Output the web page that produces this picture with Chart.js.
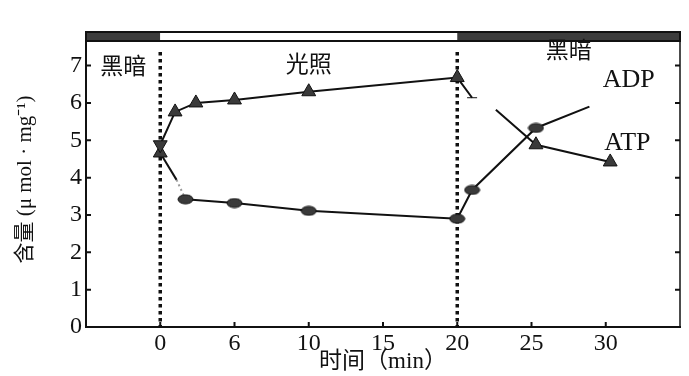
<!DOCTYPE html>
<html>
<head>
<meta charset="utf-8">
<script src="https://cdn.jsdelivr.net/npm/chart.js@4.4.0/dist/chart.umd.min.js"></script>
<style>
  html, body { margin: 0; padding: 0; background: #fff; }
</style>
</head>
<body>
<canvas id="chart" width="689" height="376"></canvas>
<script>
// time axis ticks (the printed figure shows "6" under the 5 min tick)
const xTickValues = [0, 5, 10, 15, 20, 25, 30];
const xTickLabels = ['0', '6', '10', '15', '20', '25', '30'];
const yTickValues = [0, 1, 2, 3, 4, 5, 6, 7];

// ATP (triangles)
const atpTime  = [0, 1, 2.4, 5, 10, 20, 21, 22.6, 25.3, 30.3];
const atpLevel = [4.88, 5.76, 6.0, 6.08, 6.3, 6.68, 6.14, 5.82, 4.88, 4.42];

// ADP (ellipses)
const adpTime  = [0, 1.1, 1.7, 5, 10, 20, 21, 25.3, 28.9];
const adpLevel = [4.66, 3.94, 3.42, 3.32, 3.11, 2.9, 3.67, 5.33, 5.9];

// light / dark periods
const phaseStart = [-5, 0, 20];
const phaseEnd   = [0, 20, 35];
const phaseNames = ['黑暗', '光照', '黑暗'];

const serif = "'Liberation Serif', 'Noto Sans CJK SC', serif";
const ink = '#111';

function ellipseMarker(w, h) {
  const c = document.createElement('canvas');
  c.width = w + 2;
  c.height = h + 2;
  const g = c.getContext('2d');
  g.fillStyle = '#3a3a3a';
  g.strokeStyle = ink;
  g.lineWidth = 1;
  g.beginPath();
  g.ellipse(c.width / 2, c.height / 2, w / 2, h / 2, 0, 0, Math.PI * 2);
  g.fill();
  g.stroke();
  return c;
}
const ell = ellipseMarker(15, 9);

const toPoints = (xs, ys) => xs.map((t, i) => ({ x: t, y: ys[i] }));

const decor = {
  id: 'decor',
  beforeDatasetsDraw(chart) {
    const { ctx, chartArea: a, scales: { x, y } } = chart;
    ctx.save();
    // band on top: dark / light
    const bandH = 9;
    phaseStart.forEach((s, i) => {
      const x0 = x.getPixelForValue(s);
      const x1 = x.getPixelForValue(phaseEnd[i]);
      ctx.fillStyle = phaseNames[i] === '黑暗' ? '#3c3c3c' : '#fff';
      ctx.fillRect(x0, a.top, x1 - x0, bandH);
    });
    ctx.strokeStyle = ink;
    ctx.lineWidth = 2;
    ctx.strokeRect(a.left, a.top, a.right - a.left, bandH);

    // right frame line
    ctx.lineWidth = 1.5;
    ctx.beginPath();
    ctx.moveTo(a.right, a.top);
    ctx.lineTo(a.right, a.bottom);
    ctx.stroke();

    // inward tick marks
    ctx.lineWidth = 2;
    ctx.beginPath();
    xTickValues.forEach(v => {
      const px = x.getPixelForValue(v);
      ctx.moveTo(px, a.bottom);
      ctx.lineTo(px, a.bottom - 5);
    });
    yTickValues.forEach(v => {
      const py = y.getPixelForValue(v);
      ctx.moveTo(a.left, py);
      ctx.lineTo(a.left + 5, py);
      ctx.moveTo(a.right, py);
      ctx.lineTo(a.right - 5, py);
    });
    ctx.stroke();

    // dotted lines where light is switched
    ctx.setLineDash([3.5, 3.5]);
    ctx.lineWidth = 3.5;
    [phaseEnd[0], phaseEnd[1]].forEach(v => {
      const px = x.getPixelForValue(v);
      ctx.beginPath();
      ctx.moveTo(px, a.top + 20);
      ctx.lineTo(px, a.bottom);
      ctx.stroke();
    });
    ctx.restore();
  },
  afterDraw(chart) {
    const { ctx, chartArea: a, scales: { x, y } } = chart;
    ctx.save();
    ctx.fillStyle = ink;
    ctx.textBaseline = 'middle';
    ctx.textAlign = 'center';
    ctx.font = "23px 'Noto Sans CJK SC', sans-serif";
    const dy = [33, 31, 17];
    phaseNames.forEach((n, i) => {
      const mid = (phaseStart[i] + phaseEnd[i]) / 2;
      ctx.fillText(n, x.getPixelForValue(mid), a.top + dy[i]);
    });
    ctx.textAlign = 'left';
    ctx.font = '26px ' + serif;
    ctx.fillText('ADP', x.getPixelForValue(29.8), y.getPixelForValue(6.62));
    ctx.fillText('ATP', x.getPixelForValue(29.9), y.getPixelForValue(4.93));
    ctx.restore();
  }
};

new Chart(document.getElementById('chart'), {
  type: 'scatter',
  data: {
    datasets: [
      {
        label: 'ATP',
        data: toPoints(atpTime, atpLevel),
        showLine: true,
        tension: 0,
        borderColor: ink,
        borderWidth: 2,
        backgroundColor: '#3a3a3a',
        pointBackgroundColor: '#3a3a3a',
        pointBorderColor: ink,
        pointBorderWidth: 1,
        pointStyle: ['triangle', 'triangle', 'triangle', 'triangle', 'triangle', 'triangle', 'line', 'circle', 'triangle', 'triangle'],
        pointRotation: [180, 0, 0, 0, 0, 0, 0, 0, 0, 0],
        pointRadius: [8, 8, 8, 8, 8, 8, 5, 0, 8, 8],
        segment: {
          borderColor: c => c.p0DataIndex === 6 ? 'rgba(0,0,0,0)' : undefined
        }
      },
      {
        label: 'ADP',
        data: toPoints(adpTime, adpLevel),
        showLine: true,
        tension: 0,
        borderColor: ink,
        borderWidth: 2,
        backgroundColor: '#3a3a3a',
        pointBackgroundColor: '#3a3a3a',
        pointBorderColor: ink,
        pointBorderWidth: 1,
        pointStyle: ['triangle', 'circle', ell, ell, ell, ell, ell, ell, 'circle'],
        pointRadius: [8, 0, 6, 6, 6, 6, 6, 6, 0],
        segment: {
          borderColor: c => c.p0DataIndex === 1 ? '#9a9a9a' : undefined,
          borderDash: c => c.p0DataIndex === 1 ? [2, 3] : undefined
        }
      }
    ]
  },
  options: {
    responsive: false,
    animation: false,
    devicePixelRatio: 1,
    layout: { padding: { left: 13, right: 3, top: 32, bottom: 0 } },
    plugins: {
      legend: { display: false },
      tooltip: { enabled: false }
    },
    scales: {
      x: {
        type: 'linear',
        min: -5,
        max: 35,
        grid: { display: false, drawTicks: false },
        border: { display: true, color: ink, width: 2 },
        afterBuildTicks: s => { s.ticks = xTickValues.map(v => ({ value: v })); },
        afterFit: s => { s.height = 49; },
        ticks: {
          color: ink,
          padding: 2,
          autoSkip: false,
          maxRotation: 0,
          font: { family: serif, size: 24 },
          callback: (v, i) => xTickLabels[i]
        },
        title: {
          display: true,
          text: '时间（min）',
          color: ink,
          padding: { top: 0, bottom: 0 },
          font: { family: serif, size: 23 }
        }
      },
      y: {
        min: 0,
        max: 7.9,
        grid: { display: false, drawTicks: false },
        border: { display: true, color: ink, width: 2 },
        afterBuildTicks: s => { s.ticks = yTickValues.map(v => ({ value: v })); },
        afterFit: s => { s.width = 73; },
        ticks: {
          color: ink,
          padding: 4,
          font: { family: serif, size: 24 }
        },
        title: {
          display: true,
          text: '含量 (μ mol · mg⁻¹)',
          color: ink,
          padding: { top: 0, bottom: 0 },
          font: { family: serif, size: 21 }
        }
      }
    }
  },
  plugins: [decor]
});
</script>
</body>
</html>
